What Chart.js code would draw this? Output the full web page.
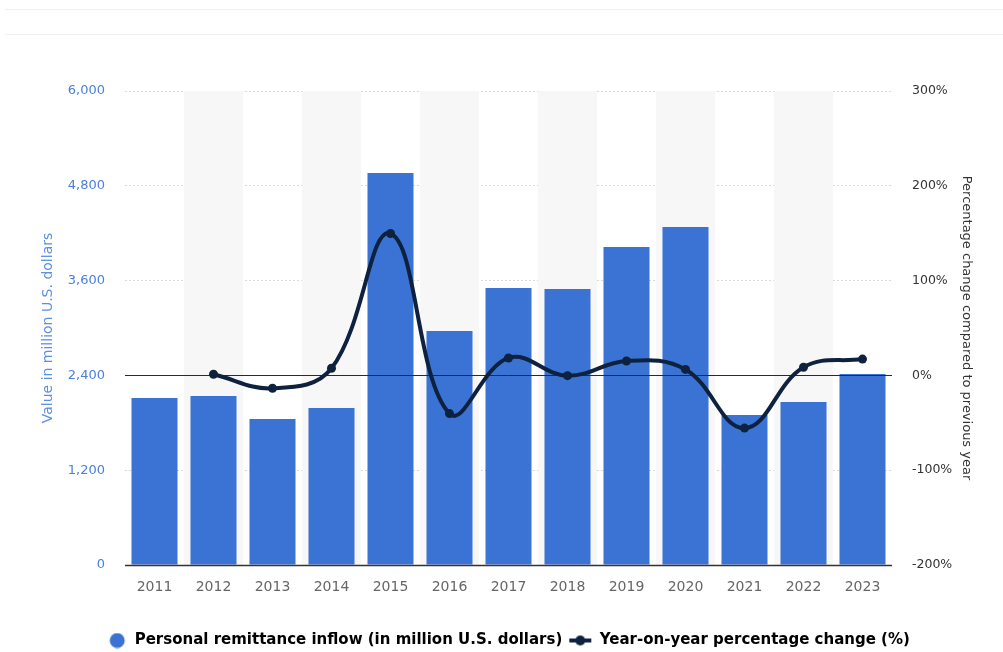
<!DOCTYPE html>
<html>
<head>
<meta charset="utf-8">
<script src="https://cdn.jsdelivr.net/npm/chart.js@4.4.1/dist/chart.umd.min.js"></script>
<style>
  html, body { margin: 0; padding: 0; background: #fff; }
  .wrap { position: relative; width: 1003px; height: 652px; }
  .rule { position: absolute; left: 5px; right: 0; height: 1px; background: #f0f0f0; }
</style>
</head>
<body>
<div class="wrap">
  <div class="rule" style="top:9px"></div>
  <div class="rule" style="top:34px"></div>
  <canvas id="myChart"></canvas>
</div>
<script>
const years = ['2011', '2012', '2013', '2014', '2015', '2016', '2017', '2018', '2019', '2020', '2021', '2022', '2023'];
const remittance = [2114, 2139, 1848, 1987, 4962, 2962, 3506, 3494, 4025, 4278, 1899, 2063, 2418];
const yoyChange = [null, 1.2, -13.6, 7.5, 149.7, -40.3, 18.4, -0.3, 15.2, 6.3, -55.6, 8.6, 17.2];
const leftTicks = [0, 1200, 2400, 3600, 4800, 6000];
const rightTicks = [-200, -100, 0, 100, 200, 300];

const blue = '#3a73d3';
const navy = '#0e2240';
const font = 'DejaVu Sans';

// legend markers, drawn on small canvases
function circleMarker() {
  const c = document.createElement('canvas');
  c.width = 24;
  c.height = 16;
  const g = c.getContext('2d');
  g.fillStyle = blue;
  g.beginPath();
  g.arc(14, 8, 7.5, 0, Math.PI * 2);
  g.fill();
  return c;
}

function lineMarker() {
  const c = document.createElement('canvas');
  c.width = 24;
  c.height = 16;
  const g = c.getContext('2d');
  g.strokeStyle = navy;
  g.lineWidth = 4;
  g.beginPath();
  g.moveTo(1, 8);
  g.lineTo(23, 8);
  g.stroke();
  g.fillStyle = navy;
  g.beginPath();
  g.arc(12, 8, 5, 0, Math.PI * 2);
  g.fill();
  return c;
}

const bandPlugin = {
  id: 'bands',
  beforeDatasetsDraw(chart) {
    const { ctx, chartArea, scales } = chart;
    const x = scales.x;
    const w = (chartArea.right - chartArea.left) / years.length;
    ctx.save();
    ctx.fillStyle = '#f7f7f7';
    years.forEach((y, i) => {
      if (i % 2 === 1) {
        const cx = x.getPixelForValue(i);
        ctx.fillRect(cx - w / 2, chartArea.top, w, chartArea.bottom - chartArea.top);
      }
    });
    ctx.restore();
  },
  beforeDatasetDraw(chart, args) {
    if (args.index !== 1) return;
    const { ctx, chartArea, scales } = chart;
    const y0 = Math.round(scales.y1.getPixelForValue(0)) + 0.5;
    const yb = Math.round(scales.y1.getPixelForValue(-200)) + 0.5;
    ctx.save();
    ctx.strokeStyle = '#2a2a2a';
    ctx.lineWidth = 1;
    ctx.beginPath();
    ctx.moveTo(chartArea.left, y0);
    ctx.lineTo(chartArea.right, y0);
    ctx.stroke();
    ctx.strokeStyle = '#333';
    ctx.lineWidth = 1.5;
    ctx.beginPath();
    ctx.moveTo(chartArea.left, yb);
    ctx.lineTo(chartArea.right, yb);
    ctx.stroke();
    ctx.restore();
  },
};

const ctx = document.getElementById('myChart').getContext('2d');
const chart = new Chart(ctx, {
  data: {
    labels: years,
    datasets: [
      {
        type: 'bar',
        label: 'Personal remittance inflow (in million U.S. dollars)',
        data: remittance,
        backgroundColor: blue,
        borderWidth: 0,
        barPercentage: 0.78,
        categoryPercentage: 1,
        yAxisID: 'y',
        order: 2,
      },
      {
        type: 'line',
        label: 'Year-on-year percentage change (%)',
        data: yoyChange,
        borderColor: navy,
        backgroundColor: navy,
        borderWidth: 4,
        pointRadius: 4.5,
        pointBackgroundColor: navy,
        pointBorderWidth: 0,
        tension: 0.4,
        yAxisID: 'y1',
        order: 1,
      },
    ],
  },
  plugins: [bandPlugin],
  options: {
    responsive: true,
    maintainAspectRatio: false,
    animation: false,
    layout: {
      padding: { top: 91, left: 34, right: 24, bottom: -6 },
    },
    plugins: {
      tooltip: { enabled: false },
      legend: {
        position: 'bottom',
        labels: {
          usePointStyle: true,
          pointStyleWidth: 24,
          boxHeight: 14,
          color: '#333',
          font: { family: font, size: 15, weight: 'bold' },
          padding: 6,
          generateLabels: () => [
            { text: 'Personal remittance inflow (in million U.S. dollars)', pointStyle: circleMarker(), fillStyle: blue, strokeStyle: blue, lineWidth: 0, datasetIndex: 0 },
            { text: 'Year-on-year percentage change (%)', pointStyle: lineMarker(), fillStyle: navy, strokeStyle: navy, lineWidth: 0, datasetIndex: 1 },
          ],
        },
      },
    },
    scales: {
      x: {
        grid: { display: false },
        border: { display: false },
        ticks: {
          color: '#666',
          font: { family: font, size: 14 },
          padding: 6,
        },
        afterFit: (scale) => { scale.height = 62; },
      },
      y: {
        position: 'left',
        min: 0,
        max: 6000,
        afterBuildTicks: (scale) => { scale.ticks = leftTicks.map((v) => ({ value: v })); },
        ticks: {
          color: '#4a80dd',
          font: { family: font, size: 13 },
          padding: 20,
          callback: (v) => v.toLocaleString('en-US'),
        },
        grid: {
          drawTicks: false,
          color: (c) => (c.tick.value === 0 || c.tick.value === 2400 ? 'rgba(0,0,0,0)' : '#d9d9d9'),
          lineWidth: 1,
        },
        border: { display: false, dash: [2, 2] },
        title: {
          display: true,
          text: 'Value in million U.S. dollars',
          color: '#5b8fe6',
          font: { family: font, size: 14 },
          padding: { top: 6, bottom: 0 },
        },
        afterFit: (scale) => { scale.width = 91; },
      },
      y1: {
        position: 'right',
        min: -200,
        max: 300,
        afterBuildTicks: (scale) => { scale.ticks = rightTicks.map((v) => ({ value: v })); },
        ticks: {
          color: '#333',
          font: { family: font, size: 12.5 },
          padding: 12,
          callback: (v) => v + '%',
        },
        grid: { display: false, drawOnChartArea: false },
        border: { display: false },
        title: {
          display: true,
          text: 'Percentage change compared to previous year',
          color: '#333',
          font: { family: font, size: 13 },
          padding: { top: 5, bottom: 0 },
        },
        afterFit: (scale) => { scale.width = 87; },
      },
    },
  },
});
</script>
</body>
</html>
